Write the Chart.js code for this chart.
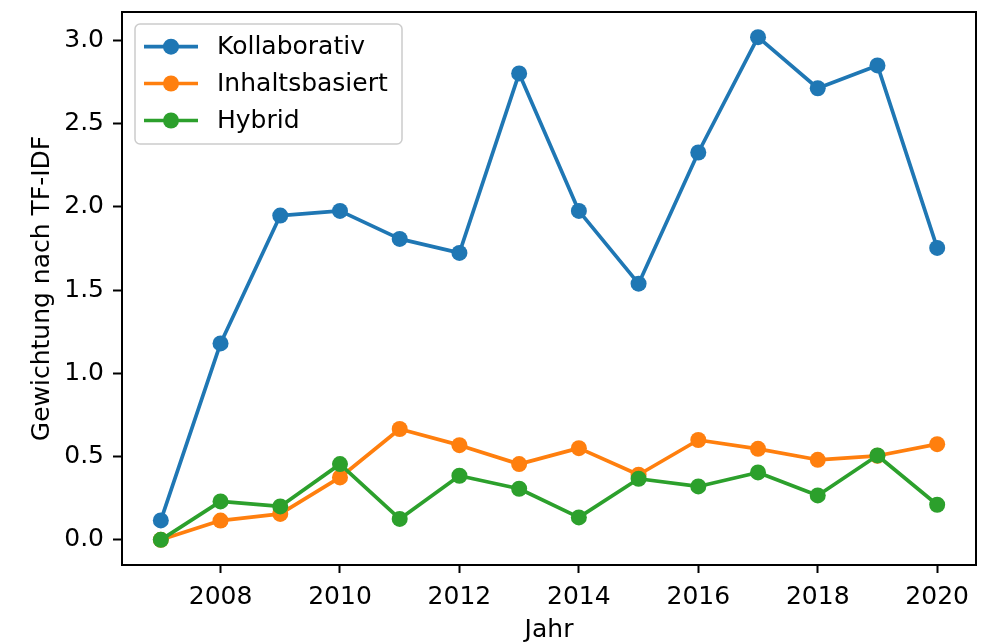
<!DOCTYPE html>
<html>
<head>
<meta charset="utf-8">
<script src="https://cdn.jsdelivr.net/npm/chart.js@4/dist/chart.umd.min.js"></script>
<style>
html,body{margin:0;padding:0;background:#fff;}
canvas{display:block;}
</style>
</head>
<body>
<canvas id="c" width="987" height="642"></canvas>
<script>
const years = [2007,2008,2009,2010,2011,2012,2013,2014,2015,2016,2017,2018,2019,2020];
const kollaborativ = [0.117,1.18,1.948,1.976,1.808,1.724,2.802,1.976,1.539,2.327,3.02,2.713,2.85,1.754];
const inhaltsbasiert = [0.0,0.116,0.156,0.375,0.666,0.569,0.455,0.551,0.391,0.6,0.547,0.481,0.505,0.575];
const hybrid = [0.0,0.231,0.201,0.455,0.126,0.385,0.307,0.135,0.367,0.321,0.405,0.267,0.507,0.211];
const xTicks = [2008,2010,2012,2014,2016,2018,2020];
const yTicks = [0.0,0.5,1.0,1.5,2.0,2.5,3.0];
const seriesNames = ['Kollaborativ','Inhaltsbasiert','Hybrid'];
const colors = ['#1f77b4','#ff7f0e','#2ca02c'];
const FONT = '"DejaVu Sans", sans-serif';

function pts(arr){ return years.map((y,i)=>({x:y,y:arr[i]})); }
function ds(label,arr,color,order){
  return {label, data:pts(arr), borderColor:color, backgroundColor:color,
    pointBackgroundColor:color, pointBorderColor:color, pointBorderWidth:0,
    pointRadius:8, pointHoverRadius:8, borderWidth:3.7, tension:0,
    borderJoinStyle:'round', borderCapStyle:'butt', order, clip:false};
}

const frame = {
  id:'frame',
  afterDatasetsDraw(chart){
    const a = chart.chartArea, ctx = chart.ctx;
    ctx.save();
    ctx.strokeStyle = '#000'; ctx.lineWidth = 2;
    ctx.strokeRect(a.left, a.top, a.right-a.left, a.bottom-a.top);
    ctx.restore();
  },
  afterDraw(chart){
    const ctx = chart.ctx;
    const bx=135, by=24, bw=267, bh=120, r=5;
    ctx.save();
    ctx.beginPath();
    ctx.roundRect(bx,by,bw,bh,r);
    ctx.fillStyle='rgba(255,255,255,0.8)'; ctx.fill();
    ctx.strokeStyle='#cccccc'; ctx.lineWidth=1.5; ctx.stroke();
    const rows=[46.7,83.5,120.5];
    chart.data.datasets.forEach((d,i)=>{
      const y=rows[i];
      ctx.strokeStyle=d.borderColor; ctx.lineWidth=3.7;
      ctx.beginPath(); ctx.moveTo(144,y); ctx.lineTo(198,y); ctx.stroke();
      ctx.fillStyle=d.borderColor;
      ctx.beginPath(); ctx.arc(171,y,8,0,Math.PI*2); ctx.fill();
      ctx.fillStyle='#000'; ctx.font='25px '+FONT; ctx.textBaseline='middle'; ctx.textAlign='left';
      ctx.fillText(d.label,217,y+1);
    });
    ctx.restore();
  }
};

new Chart(document.getElementById('c'), {
  type:'line',
  data:{datasets:[
    ds(seriesNames[0],kollaborativ,colors[0],2),
    ds(seriesNames[1],inhaltsbasiert,colors[1],1),
    ds(seriesNames[2],hybrid,colors[2],0)
  ]},
  options:{
    responsive:false, devicePixelRatio:1, animation:false,
    layout:{padding:{top:12,right:11,left:0,bottom:0}},
    plugins:{legend:{display:false}, tooltip:{enabled:false}},
    scales:{
      x:{type:'linear', min:2006.35, max:2020.65,
        afterBuildTicks(s){ s.ticks = xTicks.map(v=>({value:v})); },
        afterFit(s){ s.height = 77; s.paddingLeft = 0; s.paddingRight = 0; },
        grid:{display:true, drawOnChartArea:false, drawTicks:true, tickLength:8, tickWidth:2, tickColor:'#000'},
        border:{display:false},
        ticks:{color:'#000', font:{family:FONT,size:25}, padding:9, maxRotation:0, autoSkip:false, callback:v=>String(v)},
        title:{display:true, text:'Jahr', color:'#000', font:{family:FONT,size:25}, padding:{top:0,bottom:-3}}
      },
      y:{type:'linear', min:-0.151, max:3.171,
        afterBuildTicks(s){ s.ticks = yTicks.map(v=>({value:v})); },
        afterFit(s){ s.width = 122; s.paddingTop = 0; s.paddingBottom = 0; },
        grid:{display:true, drawOnChartArea:false, drawTicks:true, tickLength:9, tickWidth:2, tickColor:'#000'},
        border:{display:false},
        ticks:{color:'#000', font:{family:FONT,size:25}, padding:9, autoSkip:false, callback:v=>Number(v).toFixed(1)},
        title:{display:true, text:'Gewichtung nach TF-IDF', color:'#000', font:{family:FONT,size:25}, padding:{top:27,bottom:0}}
      }
    }
  },
  plugins:[frame]
});
</script>
</body>
</html>
